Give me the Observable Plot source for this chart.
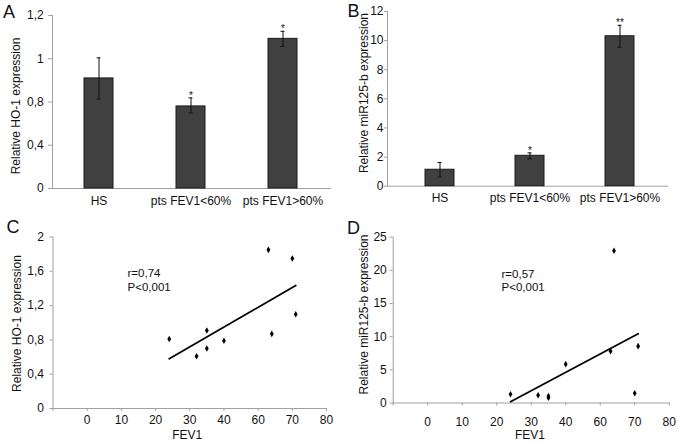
<!DOCTYPE html>
<html>
<head>
<meta charset="utf-8">
<script src="https://cdn.jsdelivr.net/npm/d3@7"></script>
<script src="https://cdn.jsdelivr.net/npm/@observablehq/plot@0.6"></script>
<style>
  html, body { margin: 0; padding: 0; background: #fff; }
  #wrap { position: relative; width: 677px; height: 443px; overflow: hidden;
          font-family: "Liberation Sans", Arial, Helvetica, sans-serif; }
  .letter { position: absolute; font-size: 18px; line-height: 18px; color: #111; }
</style>
</head>
<body>
<div id="wrap"></div>
<script>
// ---------- data ----------
const groups = ["HS", "pts FEV1<60%", "pts FEV1>60%"];
const ho1Mean = [0.909, 0.759, 1.092];
const ho1Err = [0.095, 0.06, 0.035];
const ho1Sig = ["", "*", "*"];
const mirMean = [1.13, 2.09, 10.3];
const mirErr = [0.5, 0.2, 0.75];
const mirSig = ["", "*", "**"];

const yStopsA = [0, 0.8, 1.2];          // axis breakpoints of panel A (evenly spaced ticks)
const yTicksA = [0, 0.4, 0.8, 1, 1.2];
const yTicksB = [0, 2, 4, 6, 8, 10, 12];

const xTicksCD = [-10, 0, 10, 20, 30, 40, 60, 70, 80];  // first one sits on the y axis, unlabeled
const fev1 = [24, 32, 35, 35, 40, 63, 64, 70, 71];
const ho1Scatter = [0.81, 0.61, 0.91, 0.70, 0.79, 1.85, 0.87, 1.75, 1.10];
const mirScatter = [1.31, 1.16, 1.05, 0.80, 5.86, 7.82, 22.96, 1.46, 8.57];
const trendFev1 = [24, 71];
const trendHo1 = [0.58, 1.434];
const trendMir = [0.2, 10.45];
const yTicksC = [0, 0.4, 0.8, 1.2, 1.6, 2];
const yTicksD = [0, 5, 10, 15, 20, 25];
const notesC = [{x: 11.8, y: 1.574, text: "r=0,74"}, {x: 11.8, y: 1.417, text: "P<0,001"}];
const notesD = [{x: 21.4, y: 19.4, text: "r=0,57"}, {x: 21.4, y: 17.4, text: "P<0,001"}];

// ---------- helpers ----------
const FONT = '"Liberation Sans", Arial, Helvetica, sans-serif';
const AXIS = "#a0a0a0";
const INK = "#111";
const comma = d => String(d).replace(".", ",");
const wrap = document.getElementById("wrap");

function place(node, left, top) {
  node.style.position = "absolute";
  node.style.left = left + "px";
  node.style.top = top + "px";
  wrap.appendChild(node);
}
function letter(t, left, top) {
  const d = document.createElement("div");
  d.className = "letter";
  d.textContent = t;
  d.style.left = left + "px";
  d.style.top = top + "px";
  wrap.appendChild(d);
}

function barPanel(o) {
  const data = groups.map((g, i) => ({group: g, mean: o.mean[i], err: o.err[i], sig: o.sig[i]}));
  const bottom = o.height - o.m.bottom, top = o.m.top;
  const y = o.stops
    ? {type: "linear", domain: o.stops, range: o.stops.map((d, i) => bottom - i * (bottom - top) / (o.stops.length - 1)), label: null}
    : {type: "linear", domain: o.yDomain, label: null};
  const x = {type: "band", domain: groups, paddingInner: o.pad, paddingOuter: o.pad / 2, label: null};
  if (o.xRange) x.range = o.xRange;
  return Plot.plot({
    width: o.width, height: o.height,
    marginLeft: o.m.left, marginRight: o.m.right, marginTop: o.m.top, marginBottom: o.m.bottom,
    style: {fontFamily: FONT, fontSize: "12px", color: INK, background: "transparent", overflow: "visible"},
    x, y,
    marks: [
      Plot.frame({anchor: "left", stroke: AXIS}),
      Plot.frame({anchor: "bottom", stroke: AXIS}),
      Plot.axisY({ticks: o.yTicks, tickFormat: comma, tickSize: o.yTickSize, tickPadding: o.yPad, stroke: AXIS, fill: INK, fontSize: 12, label: null}),
      Plot.axisX({tickSize: 0, tickPadding: 7.7, fill: INK, fontSize: 12, label: null}),
      Plot.barY(data, {x: "group", y: "mean", fill: "#404040", stroke: "#1a1a1a", strokeWidth: 1}),
      Plot.ruleX(data, {x: "group", y1: d => d.mean - d.err, y2: d => d.mean + d.err, stroke: "#111", strokeWidth: 1}),
      Plot.tickY(data, {x: "group", y: d => d.mean + d.err, stroke: "#111", strokeWidth: 1, inset: o.cap}),
      Plot.tickY(data, {x: "group", y: d => d.mean - d.err, stroke: "#111", strokeWidth: 1, inset: o.cap}),
      Plot.text(data, {x: "group", y: d => d.mean + d.err, text: "sig", lineAnchor: "bottom", dy: 1, fontSize: 10, fill: INK}),
      Plot.text([o.ylabel], {frameAnchor: "left", rotate: -90, dx: o.labDx, dy: o.labDy, textAnchor: "middle", lineAnchor: "middle", fontSize: 12, fill: INK})
    ]
  });
}

function scatterPanel(o) {
  const pts = fev1.map((x, i) => ({x, y: o.vals[i]}));
  const trend = trendFev1.map((x, i) => ({x, y: o.trend[i]}));
  const x0 = o.m.left, x1 = o.width - o.m.right;
  const xRange = xTicksCD.map((d, i) => x0 + i * (x1 - x0) / (xTicksCD.length - 1));
  return Plot.plot({
    width: o.width, height: o.height,
    marginLeft: o.m.left, marginRight: o.m.right, marginTop: o.m.top, marginBottom: o.m.bottom,
    style: {fontFamily: FONT, fontSize: "12px", color: INK, background: "transparent", overflow: "visible"},
    x: {type: "linear", domain: xTicksCD, range: xRange, label: null},
    y: {type: "linear", domain: o.yDomain, label: null},
    marks: [
      Plot.frame({anchor: "left", stroke: AXIS}),
      Plot.frame({anchor: "bottom", stroke: AXIS}),
      Plot.axisY({ticks: o.yTicks, tickFormat: comma, tickSize: 3, tickPadding: o.yPad, stroke: AXIS, fill: INK, fontSize: 12, label: null}),
      Plot.axisX({ticks: xTicksCD, tickFormat: d => d < 0 ? "" : String(d), tickSize: 3, tickPadding: o.xPad, stroke: AXIS, fill: INK, fontSize: 12, label: null}),
      Plot.line(trend, {x: "x", y: "y", stroke: "#000", strokeWidth: 1.8}),
      Plot.dot(pts, {x: "x", y: "y", symbol: "diamond", fill: "#000", stroke: "none", r: 2}),
      Plot.text(o.notes, {x: "x", y: "y", text: "text", textAnchor: "start", lineAnchor: "middle", fontSize: 11.5, fill: INK}),
      Plot.text([o.ylabel], {frameAnchor: "left", rotate: -90, dx: o.labDx, dy: o.labDy, textAnchor: "middle", lineAnchor: "middle", fontSize: 12, fill: INK}),
      Plot.text(["FEV1"], {frameAnchor: "bottom", dx: o.fevDx, dy: o.fevDy, lineAnchor: "middle", fontSize: 12, fill: INK})
    ]
  });
}

// ---------- panels ----------
place(barPanel({
  width: 338, height: 220, m: {left: 52, right: 8, top: 15, bottom: 32},
  mean: ho1Mean, err: ho1Err, sig: ho1Sig, stops: yStopsA, yTicks: yTicksA,
  yTickSize: 4, yPad: 4.7, pad: 0.68, cap: 12.5,
  ylabel: "Relative HO-1 expression", labDx: -36, labDy: 4
}), 0, 0);

place(barPanel({
  width: 340, height: 220, m: {left: 50, right: 10, top: 11, bottom: 34.3},
  mean: mirMean, err: mirErr, sig: mirSig, yDomain: [0, 12], yTicks: yTicksB,
  yTickSize: 3, yPad: 1, pad: 0.675, cap: 12.5, xRange: [56.6, 329],
  ylabel: "Relative miR125-b expression", labDx: -23.3, labDy: -5.8
}), 337, 0);

place(scatterPanel({
  width: 338, height: 223, m: {left: 52.5, right: 12, top: 16.5, bottom: 35},
  vals: ho1Scatter, trend: trendHo1, yDomain: [0, 2], yTicks: yTicksC, notes: notesC,
  yPad: 6, xPad: 4.4, fevDx: -2.5, fevDy: 27,
  ylabel: "Relative HO-1 expression", labDx: -35.8, labDy: 0.8
}), 0, 220);

place(scatterPanel({
  width: 340, height: 223, m: {left: 55.7, right: 8.3, top: 16.7, bottom: 40.5},
  vals: mirScatter, trend: trendMir, yDomain: [0, 25], yTicks: yTicksD, notes: notesD,
  yPad: 3.4, xPad: 11.2, fevDx: -1.3, fevDy: 32.5,
  ylabel: "Relative miR125-b expression", labDx: -29, labDy: -5.6
}), 337, 220);

letter("A", 3, 2.6);
letter("B", 347.5, 1.6);
letter("C", 6.5, 217.7);
letter("D", 347, 218.6);
</script>
</body>
</html>
